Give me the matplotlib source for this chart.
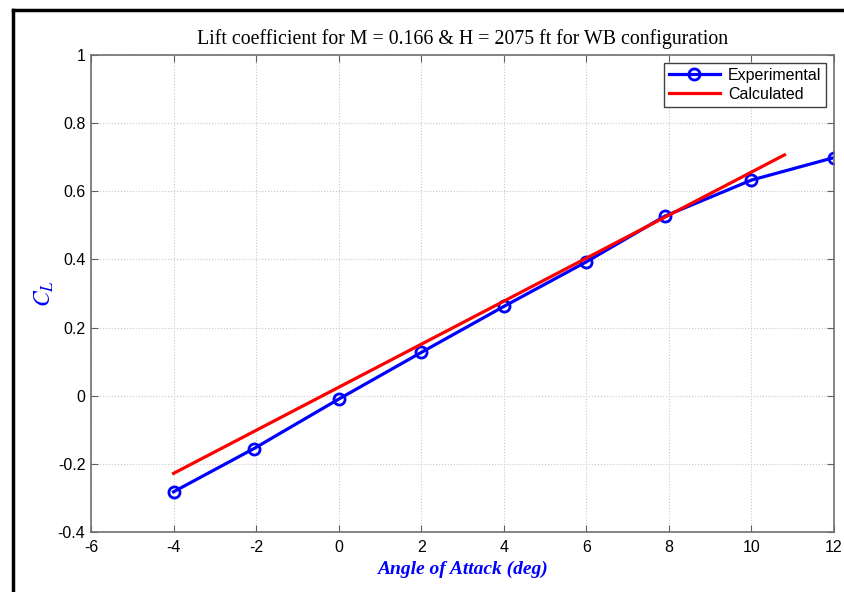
import numpy as np
import matplotlib
matplotlib.use('Agg')
import matplotlib.pyplot as plt
from matplotlib.lines import Line2D

# data
alpha_exp = [-4, -2.05, 0, 2, 4, 6, 7.9, 10, 12]
cl_exp = [-0.282, -0.155, -0.01, 0.127, 0.262, 0.393, 0.527, 0.633, 0.699]
alpha_calc = [-4, 10.8]
cl_calc = [-0.228, 0.707]

plt.rcParams['font.family'] = ['Liberation Sans', 'DejaVu Sans']
plt.rcParams['mathtext.fontset'] = 'stix'
plt.rcParams['axes.unicode_minus'] = False

fig = plt.figure(figsize=(8.45, 5.92), dpi=100)
ax = fig.add_axes([0.1077, 0.1014, 0.8793, 0.8056])

ax.plot(alpha_exp, cl_exp, color='#0000ff', lw=2.3, marker='o', ms=8,
        mfc='none', mew=2, label='Experimental')
ax.plot(alpha_calc, cl_calc, color='#ff0000', lw=2.3, label='Calculated')

ax.set_xlim(-6, 12)
ax.set_ylim(-0.4, 1)
ax.set_xticks(np.arange(-6, 13, 2))
ax.set_yticks(np.arange(-0.4, 1.01, 0.2))
ax.set_yticklabels(['-0.4', '-0.2', '0', '0.2', '0.4', '0.6', '0.8', '1'])
ax.grid(True, linestyle=':', color='#c8c8c8', lw=0.8)
ax.tick_params(direction='in', top=True, right=True, length=5, labelsize=11.5,
               color='#606060')
ax.tick_params(axis='x', pad=6)
ax.tick_params(axis='y', pad=4)
for s in ax.spines.values():
    s.set_color('#707070')
    s.set_linewidth(1.2)

ax.set_title('Lift coefficient for M = 0.166 & H = 2075 ft for WB configuration',
             family='Liberation Serif', fontsize=14.3, pad=8)
ax.set_xlabel('Angle of Attack (deg)', family='Liberation Serif', fontsize=14,
              fontweight='bold', style='italic', color='#0000ff', labelpad=4)
ax.set_ylabel('$C_L$', fontsize=17, color='#0000ff', labelpad=1)

leg = ax.legend(loc='upper right', fontsize=11.5, fancybox=False, framealpha=1,
                edgecolor='#404040', borderaxespad=0.5, handlelength=3.2,
                labelspacing=0.25, borderpad=0.3, handletextpad=0.5)
leg.get_frame().set_linewidth(1)

# border lines of the original screenshot
fig.add_artist(Line2D([13/845, 13/845], [0, 1 - 10/592], color='black', lw=2.5,
                      transform=fig.transFigure))
fig.add_artist(Line2D([13/845, 1], [1 - 10/592, 1 - 10/592], color='black', lw=2.5,
                      transform=fig.transFigure))

fig.savefig('out.png', dpi=100)
